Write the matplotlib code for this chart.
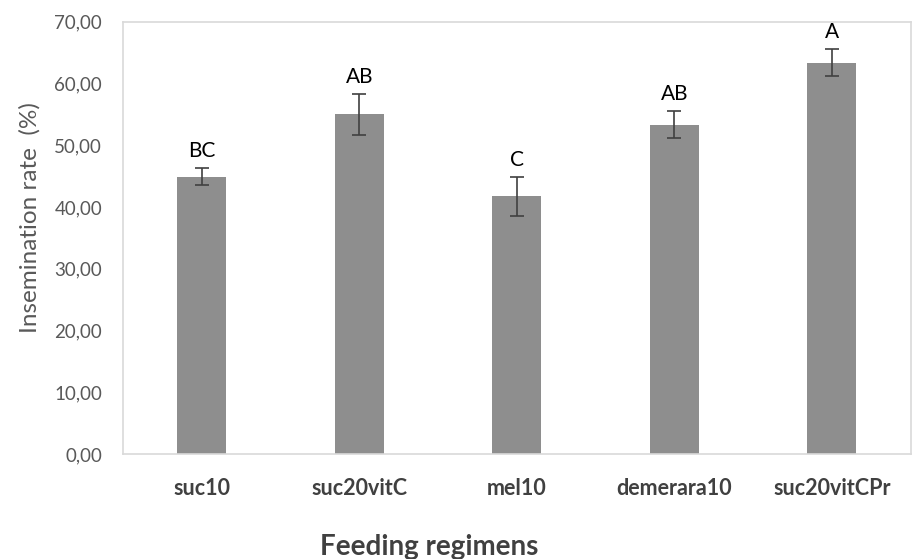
import matplotlib.pyplot as plt

# data
regimens = ["suc10", "suc20vitC", "mel10", "demerara10", "suc20vitCPr"]
insemination = [44.9, 55.0, 41.7, 53.3, 63.4]
errors = [1.4, 3.3, 3.1, 2.2, 2.2]
letters = ["BC", "AB", "C", "AB", "A"]
yticks = [0, 10, 20, 30, 40, 50, 60, 70]

plt.rcParams['font.family'] = ['Lato', 'DejaVu Sans']

fig = plt.figure(figsize=(9.17, 5.59), dpi=100)
ax = fig.add_axes([0.134, 0.188, 0.859, 0.773])

x = range(len(regimens))
ax.bar(x, insemination, width=0.31, color="#8e8e8e", zorder=2)
ax.errorbar(x, insemination, yerr=errors, fmt="none", ecolor="#404040",
            elinewidth=1.2, capsize=5, capthick=1.2, zorder=3)

for xi, v, e, lab in zip(x, insemination, errors, letters):
    ax.annotate(lab, (xi, v + e), xytext=(0, 5), textcoords="offset points",
                ha="center", va="bottom", fontsize=15, color="black")

ax.set_xlim(-0.5, 4.5)
ax.set_ylim(0, 70)
ax.set_yticks(yticks)
ax.set_yticklabels([f"{t},00" for t in yticks], fontsize=13.5, color="#595959")
ax.set_xticks(list(x))
ax.set_xticklabels(regimens, fontsize=15.5, fontweight="bold", color="#404040")
ax.tick_params(axis="both", length=0)
ax.tick_params(axis="y", pad=15)
ax.tick_params(axis="x", pad=17)

for s in ax.spines.values():
    s.set_color("#d9d9d9")
    s.set_linewidth(1.2)

fig.text(0.032, 0.61, "Insemination rate  (%)", rotation=90, ha="center",
         va="center", fontsize=17.5, color="#595959")
fig.text(0.468, 0.022, "Feeding regimens", ha="center", va="center",
         fontsize=20, fontweight="bold", color="#404040")

fig.savefig("out.png", dpi=100)
